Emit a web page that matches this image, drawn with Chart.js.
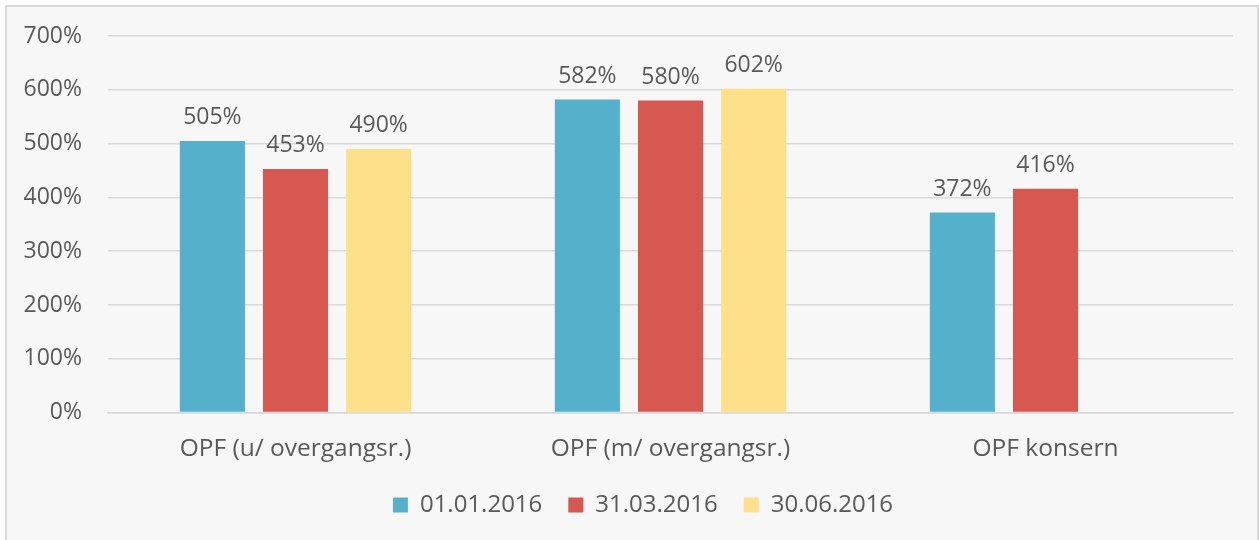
<!DOCTYPE html>
<html>
<head>
<meta charset="utf-8">
<script src="https://cdn.jsdelivr.net/npm/chart.js@4.4.1/dist/chart.umd.min.js"></script>
<style>
    body { margin: 0; background: #ffffff; }
    .boks {
        position: absolute; left: 5px; top: 5px;
        width: 1250px; height: 540px;
        border: 2px solid #d9d9d9; background: #f7f7f7;
    }
</style>
</head>
<body>
<div class="boks"><canvas id="opfChart" width="1250" height="533"></canvas></div>
<script>
const kategorier = ['OPF (u/ overgangsr.)', 'OPF (m/ overgangsr.)', 'OPF konsern'];
const serieNavn = ['01.01.2016', '31.03.2016', '30.06.2016'];
const verdi0101 = [505, 582, 372];
const verdi3103 = [453, 580, 416];
const verdi3006 = [490, 602, null];
const yTicks = [0, 100, 200, 300, 400, 500, 600, 700];

const farger = ['#55b0cb', '#d65850', '#fee08b'];
const tekstFarge = '#595959';
const skrift = 'Open Sans';

// Verdietiketter over stolpene
const etiketter = {
    id: 'etiketter',
    afterLayout(chart) {
        // flytt forklaringen litt mot høyre, som i originalen
        chart.legend.left += 23;
        chart.legend.right += 23;
    },
    afterDatasetsDraw(chart) {
        const c = chart.ctx;
        c.save();
        c.font = '23px "' + skrift + '"';
        c.fillStyle = tekstFarge;
        c.textAlign = 'center';
        c.textBaseline = 'bottom';
        chart.data.datasets.forEach(function(ds, i) {
            chart.getDatasetMeta(i).data.forEach(function(bar, j) {
                if (ds.data[j] == null) return;
                c.fillText(ds.data[j] + '%', bar.x, bar.y - 12);
            });
        });
        c.restore();
    }
};

const alleVerdier = [verdi0101, verdi3103, verdi3006];

new Chart(document.getElementById('opfChart'), {
    type: 'bar',
    data: {
        labels: kategorier,
        datasets: serieNavn.map(function(navn, i) {
            return {
                label: navn,
                data: alleVerdier[i],
                backgroundColor: farger[i],
                categoryPercentage: 0.665,
                barPercentage: 0.783
            };
        })
    },
    options: {
        responsive: false,
        animation: false,
        layout: { padding: { top: 29, right: 24, left: 0, bottom: 13 } },
        plugins: {
            legend: {
                position: 'bottom',
                labels: {
                    boxWidth: 15, boxHeight: 15,
                    color: tekstFarge,
                    font: { family: skrift, size: 24 },
                    padding: 26
                }
            },
            tooltip: { enabled: false }
        },
        scales: {
            x: {
                grid: { display: false },
                border: { color: '#d9d9d9', width: 1.5 },
                ticks: { color: tekstFarge, font: { family: skrift, size: 24.5 }, padding: 14 },
                afterFit: function(scale) { scale.height -= 11; }
            },
            y: {
                min: 0, max: 700,
                afterBuildTicks: function(scale) {
                    scale.ticks = yTicks.map(function(v) { return { value: v }; });
                },
                afterFit: function(scale) {
                    scale.width = 101;
                    scale.paddingTop = 0;
                    scale.paddingBottom = 0;
                },
                grid: { color: '#d9d9d9', lineWidth: 1.5, drawTicks: false },
                border: { display: false },
                ticks: {
                    color: tekstFarge,
                    font: { family: skrift, size: 23 },
                    padding: 26,
                    callback: function(v) { return v + '%'; }
                }
            }
        }
    },
    plugins: [etiketter]
});
</script>
</body>
</html>
